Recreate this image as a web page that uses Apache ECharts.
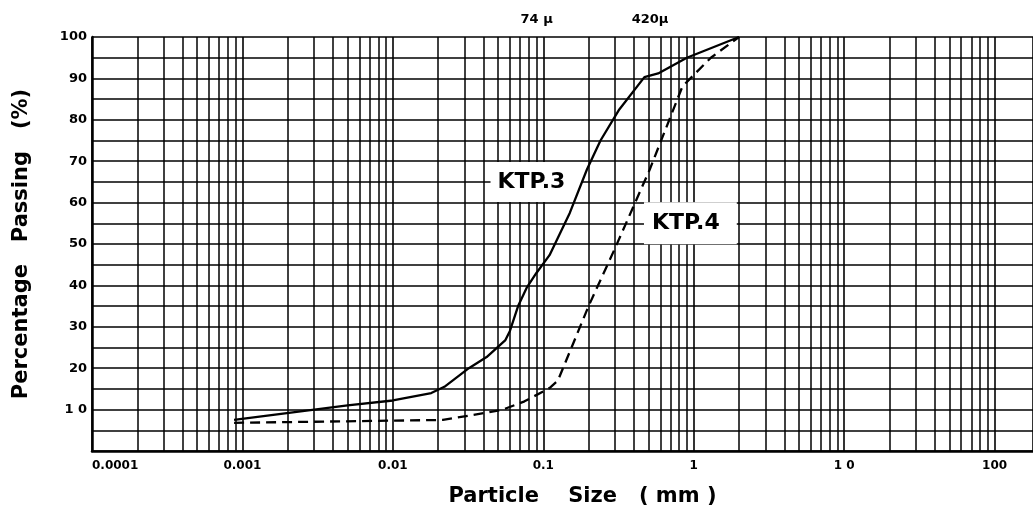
<!DOCTYPE html>
<html><head><meta charset="utf-8">
<script src="https://cdn.jsdelivr.net/npm/echarts@6/dist/echarts.min.js"></script>
<style>html,body{margin:0;padding:0;background:#fff}#c{width:1033px;height:517px}</style>
</head><body><div id="c"></div>
<script>
// Axis data
const xDecades = [0.0001, 0.001, 0.01, 0.1, 1, 10, 100];
const xTickLabels = ['0.0001', '0.001', '0.01', '0.1', '1', '1 0', '100'];
const minorSteps = [2, 3, 4, 5, 6, 7, 8, 9];
const yTickValues = [10, 20, 30, 40, 50, 60, 70, 80, 90, 100];
const yTickLabels = ['1 0', '20', '30', '40', '50', '60', '70', '80', '90', '100'];

// Grain size curves [size mm, % passing]
const ktp3 = [
  [0.00088, 7.5], [0.005, 11], [0.01, 12.2], [0.018, 14], [0.022, 15.5],
  [0.032, 20], [0.042, 22.7], [0.056, 26.8], [0.06, 29], [0.068, 35],
  [0.078, 39.6], [0.09, 43], [0.11, 47.3], [0.15, 57.5], [0.195, 68],
  [0.24, 75], [0.32, 82.5], [0.47, 90.3], [0.58, 91.2], [0.9, 95], [2.0, 100]
];
const ktp4 = [
  [0.00088, 6.8], [0.0215, 7.5], [0.053, 9.9], [0.075, 12], [0.11, 15.2],
  [0.125, 17], [0.2, 35], [0.3, 49], [0.51, 68], [0.84, 88], [0.95, 90],
  [1.3, 95], [2.0, 100]
];

// Annotations
const sieveSizes = [0.074, 0.42];
const sieveNames = ['74 μ', '420μ'];
const curveNames = ['KTP.3', 'KTP.4'];
const curveLabelAt = [[0.09, 65], [0.95, 55]];

const FONT = 'DejaVu Sans';
const minorLines = [];
xDecades.forEach(d => minorSteps.forEach(k => minorLines.push({ coords: [[k * d, 0], [k * d, 100]] })));

const chart = echarts.init(document.getElementById('c'), null, { renderer: 'canvas' });

function curveLabel(i, pad) {
  return {
    silent: true,
    symbol: 'rect', symbolSize: 1,
    itemStyle: { color: 'rgba(0,0,0,0)' },
    label: {
      show: true, position: 'inside', formatter: curveNames[i],
      color: '#000', fontFamily: FONT, fontWeight: 'bold', fontSize: 22,
      backgroundColor: '#fff', padding: pad
    },
    data: [{ coord: curveLabelAt[i] }]
  };
}

chart.setOption({
  animation: false,
  backgroundColor: '#fff',
  textStyle: { fontFamily: FONT },
  grid: { left: 92, top: 37, right: 0, height: 414, outerBoundsMode: 'none', containLabel: false },
  xAxis: {
    type: 'log', logBase: 10, min: 0.0001, max: 180,
    name: 'Particle    Size   ( mm )',
    nameLocation: 'middle', nameGap: 35,
    nameTextStyle: { fontFamily: FONT, fontWeight: 'bold', fontSize: 21, color: '#000', padding: [0, 0, 0, 40] },
    axisLine: { show: true, lineStyle: { color: '#000', width: 2.5 } },
    axisTick: { show: false },
    axisLabel: {
      color: '#000', fontFamily: FONT, fontWeight: 'bold', fontSize: 12, margin: 9,
      alignMinLabel: 'left', showMaxLabel: false,
      formatter: v => {
        const l = Math.log10(v), r = Math.round(l);
        return Math.abs(l - r) < 1e-6 ? (xTickLabels[r + 4] || '') : '';
      }
    },
    splitLine: { show: true, lineStyle: { color: '#000', width: 1.6 } }
  },
  yAxis: {
    type: 'value', min: 0, max: 100, interval: 5,
    name: 'Percentage   Passing   (%)',
    nameLocation: 'middle', nameGap: 60,
    nameTextStyle: { fontFamily: FONT, fontWeight: 'bold', fontSize: 21, color: '#000' },
    axisLine: { show: true, lineStyle: { color: '#000', width: 2.5 } },
    axisTick: { show: false },
    axisLabel: {
      color: '#000', fontFamily: FONT, fontWeight: 'bold', fontSize: 13, margin: 5,
      formatter: v => { const i = yTickValues.indexOf(v); return i >= 0 ? yTickLabels[i] : ''; }
    },
    splitLine: { show: true, lineStyle: { color: '#000', width: 1.5 } }
  },
  series: [
    {
      name: 'minor grid', type: 'lines', coordinateSystem: 'cartesian2d',
      z: 1, silent: true, animation: false,
      lineStyle: { color: '#000', width: 1.5, opacity: 1, curveness: 0 },
      data: minorLines
    },
    {
      name: 'sieves', type: 'line', data: [], z: 1, zlevel: 1, silent: true,
      markPoint: {
        silent: true, symbol: 'rect', symbolSize: 1,
        itemStyle: { color: 'rgba(0,0,0,0)' },
        label: {
          show: true, position: 'inside', color: '#000', fontFamily: FONT,
          fontWeight: 'bold', fontSize: 13, offset: [13, -17],
          formatter: p => p.name
        },
        data: sieveSizes.map((s, i) => ({ name: sieveNames[i], coord: [s, 100] }))
      }
    },
    {
      name: 'KTP.3', type: 'line', data: ktp3, z: 3, zlevel: 1, symbol: 'none',
      lineStyle: { color: '#000', width: 2.3, type: 'solid' },
      markPoint: curveLabel(0, [9, 17, 9, 7])
    },
    {
      name: 'KTP.4', type: 'line', data: ktp4, z: 3, zlevel: 1, symbol: 'none',
      lineStyle: { color: '#000', width: 2.3, type: [10, 6] },
      markPoint: curveLabel(1, [10, 17, 10, 8])
    }
  ]
});
</script></body></html>
